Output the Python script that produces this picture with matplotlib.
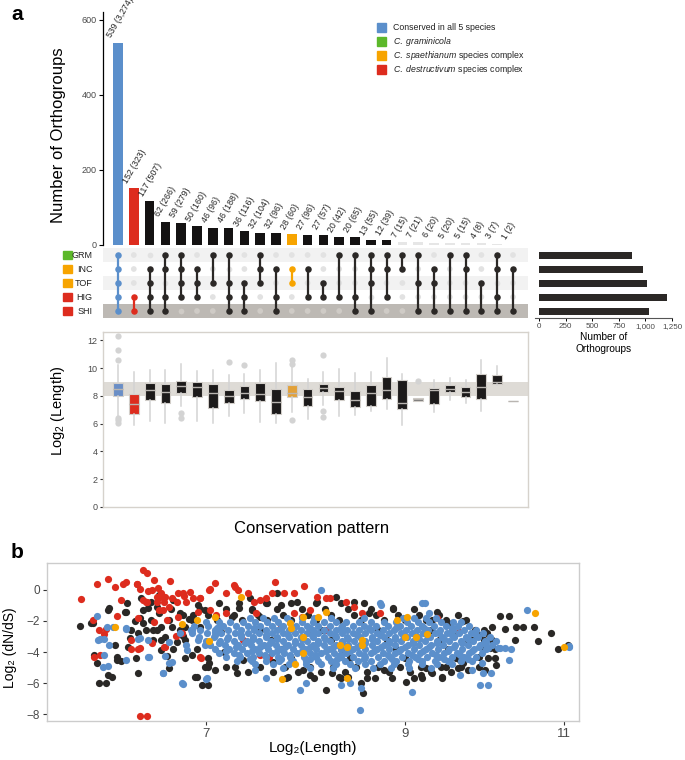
import matplotlib
matplotlib.use('Agg')
import matplotlib.pyplot as plt
from matplotlib.patches import Rectangle
from matplotlib.ticker import NullLocator

plt.rcParams['font.family'] = ['Liberation Sans', 'DejaVu Sans']
plt.rcParams['mathtext.fontset'] = 'custom'
plt.rcParams['mathtext.rm'] = 'Liberation Sans'
plt.rcParams['mathtext.it'] = 'Liberation Sans:italic'
plt.rcParams['mathtext.bf'] = 'Liberation Sans:bold'

BLUE = '#5b8fcb'
RED = '#dd2c1e'
ORANGE = '#f7a400'
GREEN = '#5cb82a'
DARK = '#2b2826'
GREYTXT = '#4a4a4a'

# ---------------- panel a: upset data ----------------
set_names = ['GRM', 'INC', 'TOF', 'HIG', 'SHI']
set_colors = [GREEN, ORANGE, ORANGE, RED, RED]
set_sizes = [874, 977, 1015, 1203, 1034]

bar_counts = [539, 152, 117, 62, 59, 50, 46, 46, 36, 32, 32, 28, 27, 27, 20, 20,
              13, 12, 7, 7, 6, 5, 5, 4, 3, 1]
bar_genes = ['3,274', '323', '507', '266', '279', '160', '96', '188', '116', '104',
             '96', '60', '96', '57', '42', '65', '55', '39', '15', '21', '20', '20',
             '15', '8', '7', '2']
patterns = ['GITHS', 'HS', 'ITHS', 'GIHS', 'GITH', 'ITH', 'GT', 'GTHS', 'THS', 'GIT',
            'IHS', 'IT', 'IH', 'TH', 'GH', 'GHS', 'GITS', 'GIH', 'GI', 'GTS', 'ITS',
            'GS', 'GIS', 'TS', 'GIHS', 'IS']
groups = ['all', 'des'] + ['other'] * 9 + ['spa'] + ['other'] * 14

legend_labels = ['Conserved in all 5 species',
                 r'$\mathit{C.\ graminicola}$',
                 r'$\mathit{C.\ spaethianum}$ species complex',
                 r'$\mathit{C.\ destructivum}$ species complex']
legend_colors = [BLUE, GREEN, ORANGE, RED]

# box plot of Log2(Length) per conservation pattern
box_lo = [6.5, 5.9, 6.2, 6.07, 7.27, 6.2, 6.02, 6.57, 6.79, 6.14, 6.02, 6.86, 6.31,
          7.34, 6.55, 6.62, 6.93, 7.05, 5.9, 7.65, 6.86, 7.70, 7.51, 6.91, 8.77, 7.63]
box_q1 = [7.98, 6.67, 7.70, 7.46, 8.22, 7.94, 7.10, 7.51, 7.79, 7.65, 6.69, 7.94, 7.29,
          8.25, 7.70, 7.22, 7.29, 7.77, 7.03, 7.65, 7.39, 8.30, 7.94, 7.77, 8.85, 7.63]
box_med = [8.53, 7.41, 8.41, 8.25, 8.70, 8.61, 8.18, 7.98, 8.22, 8.13, 7.53, 8.18, 7.89,
           8.58, 8.34, 7.70, 8.18, 8.46, 7.46, 7.77, 8.41, 8.53, 8.30, 8.65, 8.99, 7.63]
box_q3 = [8.96, 8.13, 8.96, 8.89, 9.08, 9.01, 8.85, 8.46, 8.70, 8.94, 8.53, 8.75, 8.49,
          8.85, 8.61, 8.34, 8.77, 9.37, 9.18, 7.86, 8.58, 8.82, 8.65, 9.56, 9.54, 7.63]
box_hi = [10.2, 9.73, 9.9, 9.85, 10.28, 9.78, 9.9, 9.49, 9.61, 9.9, 10.38, 10.09, 9.25,
          9.73, 9.97, 9.68, 9.73, 10.76, 9.61, 7.86, 9.18, 9.32, 9.13, 10.57, 10.14, 7.63]
box_out = [[12.3, 11.33, 10.57, 6.38, 6.26, 6.02], [], [], [], [6.74, 6.38], [], [],
           [10.45], [10.26], [], [], [10.57, 10.33, 6.26], [], [10.92, 6.93, 6.45],
           [], [], [], [], [], [9.08], [], [], [], [], [], []]

# ---------------- panel b: scatter data (Log2 length, Log2 dN/dS) ----------------
red_x = [5.98, 6.10, 6.19, 6.24, 6.31, 6.33, 6.29, 6.42, 6.44, 6.47, 6.50, 6.56, 6.54,
         6.47, 6.49, 6.59, 6.62, 6.65, 6.69, 6.76, 6.80, 6.86, 6.89, 6.95, 7.03, 7.08,
         7.18, 7.25, 7.29, 7.38, 7.44, 7.50, 7.55, 7.61, 7.64, 7.73, 7.82, 7.92, 7.98,
         8.06, 8.15, 8.19, 8.44, 8.53, 8.72, 8.91, 9.37, 9.64,
         6.07, 6.17, 6.26, 6.37, 6.44, 6.54, 6.64, 6.13, 6.95, 6.44, 6.50,
         6.76, 6.93, 6.67, 7.34, 7.50, 7.58, 7.90, 7.70, 7.98, 7.82, 7.46, 7.18, 8.15, 8.35,
         6.42, 6.51, 6.58, 6.50, 6.58, 6.61, 6.64, 6.71, 6.60, 6.63, 6.68, 6.75, 6.81,
         6.83, 6.95, 7.04, 7.26, 6.12, 6.16, 6.37, 6.43, 6.65, 6.96, 6.43, 6.56, 6.79,
         6.74, 7.04, 7.09, 6.08]
red_y = [-0.58, 0.37, 0.71, 0.22, 0.37, 0.54, -0.65, 0.37, 0.04, 1.29, 1.12, 0.65, 0.0,
         -0.65, -0.75, 0.11, -0.22, -0.43, 0.60, -0.22, -0.22, -0.15, -0.54, -0.54, 0.0,
         0.43, -0.17, 0.32, 0.0, -0.22, -0.75, -0.65, -0.54, -0.22, 0.49, -0.22, -0.22,
         0.28, -1.29, -0.43, -0.54, -0.54, -1.08, -1.5, -1.5, -2.37, -1.83, -2.69,
         -1.94, -2.54, -1.68, -3.23, -3.76, -3.44, -3.66, -4.19, -4.30, -8.13, -8.13,
         -1.72, -1.40, -1.94, -3.23, -4.19, -4.30, -1.72, -2.37, -2.58, -1.5, -1.5, -1.5,
         -2.58, -0.75,
         0.39, -0.04, -0.75, -0.75, -0.47, -0.47, -0.75, -0.54, -1.29, -1.29, -1.08,
         -0.75, -0.39, -0.75, -0.50, 0.04, 0.21, -2.58, -2.84, -3.83, -3.83, -3.70,
         -4.37, -1.83, -2.04, -2.80, -2.97, -1.29, -1.61, -4.30]

orange_x = [6.24, 6.79, 6.92, 7.08, 7.03, 7.32, 7.79, 7.80, 7.91, 7.91, 7.91, 8.07, 8.15,
            7.83, 7.71, 8.29, 8.37, 8.53, 8.53, 8.37, 8.91, 9.02, 9.00, 9.13, 9.25,
            10.60, 11.00]
orange_y = [-2.37, -2.19, -1.94, -1.76, -3.27, -0.43, -2.15, -2.47, -1.76, -3.01, -4.04,
            -1.76, -1.40, -4.80, -5.76, -3.55, -3.66, -3.23, -3.55, -5.70, -1.94, -1.76,
            -3.01, -3.01, -2.84, -1.46, -3.66]

black_x = [5.97, 6.07, 6.08, 6.10, 6.17, 6.20, 6.22, 6.24, 6.26, 6.29, 6.33, 6.35, 6.37,
           6.41, 6.43, 6.44, 6.47, 6.49, 6.53, 6.53, 6.55, 6.58, 6.60, 6.62, 6.65, 6.67,
           6.70, 6.72, 6.75, 6.78, 6.82, 6.88, 6.91, 6.93, 6.97, 6.99, 7.03, 7.08, 7.12,
           7.14, 7.16, 7.18, 7.24, 7.28, 7.30, 7.34, 7.40, 7.42, 7.50, 7.56, 7.62, 7.66,
           7.70, 7.77, 7.85, 7.91, 7.98, 8.06, 8.15, 8.21, 8.25, 8.28, 8.38, 8.44, 8.52,
           8.54, 8.60, 8.67, 8.76, 8.87, 9.01, 9.10, 9.18, 9.24, 9.31, 9.43, 9.50, 9.57,
           9.62, 9.69, 9.74, 9.83, 9.88, 9.93, 9.98,
           9.37, 9.69, 10.04, 10.15, 10.26, 10.21, 10.36, 10.45, 10.59, 10.34, 10.64,
           10.82, 10.92, 11.05, 9.94, 10.02, 10.08, 10.09, 9.96, 9.90, 9.80, 9.43, 9.31,
           9.20, 9.48, 9.65, 9.74,
           6.06, 6.12, 6.19, 6.19, 6.26, 6.36, 6.34, 6.32, 6.43, 6.47, 6.51, 6.68, 6.71,
           6.89, 6.99, 7.02, 6.92, 6.40, 6.55, 6.62, 6.80, 6.85, 6.95, 6.60, 6.45]
black_y = [-2.30, -2.15, -4.19, -4.73, -5.98, -1.18, -5.59, -3.55, -4.30, -4.56, -1.40,
           -3.66, -2.58, -4.41, -5.38, -1.83, -1.29, -2.58, -0.75, -1.94, -3.23, -1.08,
           -1.50, -2.37, -3.01, -4.26, -1.25, -0.65, -3.33, -1.50, -2.37, -4.19, -5.59,
           -0.97, -6.13, -1.29, -4.73, -5.16, -0.86, -2.69, -3.98, -4.95, -1.72, -5.38,
           -1.18, -4.52, -0.54, -1.29, -1.72, -0.86, -4.62, -0.22, -0.97, -5.59, -0.75,
           -5.16, -5.48, -0.75, -6.45, -5.38, -0.43, -5.59, -5.59, -0.75, -6.02, -6.67,
           -1.50, -5.70, -5.16, -1.18, -5.91, -5.70, -5.48, -5.05, -1.94, -5.59, -2.15,
           -2.97, -5.05, -4.73, -3.23, -2.58, -4.34, -3.66, -2.80,
           -1.42, -2.00, -2.39, -1.68, -1.68, -2.52, -2.39, -2.39, -2.39, -3.23, -3.29,
           -2.77, -3.81, -3.55, -3.23, -3.74, -4.39, -4.84, -5.16, -2.90, -3.23, -5.68,
           -5.35, -5.68, -4.97, -4.52, -5.16,
           -2.15, -5.98, -1.29, -5.48, -4.52, -3.12, -0.86, -1.40, -2.75, -2.15, -1.18,
           -5.05, -2.37, -1.61, -4.95, -6.13, -5.59, -2.0, -2.6, -3.9, -3.0, -1.9, -2.4,
           -0.3, -0.5]
# black points lying behind the dense blue band, one row per dN/dS level
black_rows = [
    (-0.85, [7.30, 7.55, 7.80, 8.05, 8.30, 8.55]),
    (-1.25, [6.95, 7.18, 7.42, 7.66, 7.90, 8.14, 8.38, 8.62, 8.86, 9.10]),
    (-1.6, [6.80, 7.02, 7.25, 7.48, 7.72, 7.96, 8.20, 8.44, 8.68, 8.92, 9.16, 9.40, 9.62]),
    (-1.95, [6.68, 6.88, 7.10, 7.33, 7.56, 7.80, 8.04, 8.28, 8.52, 8.76, 9.00, 9.24, 9.48, 9.72]),
    (-2.6, [6.58, 6.78, 7.5, 8.1, 8.7, 9.3, 9.95]),
    (-3.2, [6.62, 6.82, 7.6, 8.2, 8.8, 9.4, 10.05]),
    (-3.8, [6.72, 6.92, 7.7, 8.3, 8.9, 9.5, 10.08]),
    (-4.4, [6.82, 7.02, 7.8, 8.4, 9.0, 9.6, 10.0]),
    (-4.95, [7.02, 7.26, 7.50, 7.74, 7.98, 8.22, 8.46, 8.70, 8.94, 9.18, 9.42, 9.66, 9.88]),
    (-5.3, [7.38, 7.62, 7.86, 8.10, 8.34, 8.58, 8.82, 9.06, 9.30, 9.54]),
    (-5.65, [7.75, 8.02, 8.30, 8.58, 8.85]),
]

blue_x = [6.10, 6.13, 6.19, 6.20, 6.23, 6.33, 6.44, 6.52, 6.63, 6.68, 6.79, 6.83, 6.87,
          6.93, 6.99, 7.01, 7.08, 7.12, 7.45, 7.55, 7.88, 7.94, 8.10, 8.30, 8.40, 8.50,
          8.52, 8.72, 8.73, 9.08, 9.20, 9.90, 9.93, 10.50, 11.07, 10.00, 10.15,
          9.23, 9.28, 11.07, 10.12, 10.21, 10.29, 10.26, 9.99, 10.03, 9.65, 9.80, 9.92,
          9.97, 9.56, 9.39,
          6.11, 6.16, 6.18, 6.16, 6.15, 6.33, 6.33, 6.43, 6.51, 6.51, 6.63, 6.65, 6.71,
          6.68, 6.78, 6.80, 6.84, 6.88, 7.00]
blue_y = [-1.68, -3.18, -4.90, -3.55, -2.37, -2.47, -3.12, -4.30, -5.38, -4.69, -6.02,
          -3.55, -2.58, -3.23, -3.55, -5.70, -2.69, -2.37, -5.16, -5.70, -6.45, -6.02,
          0.0, -6.13, -6.02, -7.74, -6.34, -0.82, -0.97, -6.56, -0.86, -6.13, -5.38,
          -1.29, -3.66, -3.76, -3.76,
          -0.84, -1.48, -3.61, -3.74, -3.74, -3.81, -4.52, -6.13, -5.35, -5.48, -5.16,
          -4.71, -3.35, -2.58, -2.77,
          -3.23, -3.16, -2.37, -4.19, -4.95, -2.54, -4.52, -3.18, -3.23, -4.34, -5.38,
          -4.26, -4.62, -3.33, -2.75, -6.06, -3.87, -2.58, -5.76]
# the dense blue band, one row per dN/dS level
blue_rows = [
    (-1.8, [7.40, 7.52, 7.63, 7.76, 7.90, 8.02, 8.20, 8.55, 8.98, 9.10, 9.24, 9.36]),
    (-2.05, [7.00, 7.12, 7.22, 7.34, 7.45, 7.56, 7.67, 7.79, 7.90, 8.01, 8.13, 8.25, 8.36,
             8.49, 8.62, 8.76, 8.90, 9.02, 9.15, 9.28, 9.42, 9.56, 9.66]),
    (-2.3, [6.90, 7.02, 7.15, 7.27, 7.38, 7.50, 7.61, 7.72, 7.84, 7.95, 8.07, 8.19, 8.31,
            8.43, 8.55, 8.68, 8.81, 8.94, 9.07, 9.20, 9.34, 9.48, 9.62, 9.76]),
    (-2.43, [7.10, 7.44, 7.70, 7.98, 8.30, 8.60, 8.90, 9.22, 9.55]),
    (-2.55, [6.95, 7.08, 7.20, 7.32, 7.44, 7.55, 7.66, 7.78, 7.89, 8.01, 8.13, 8.25, 8.37,
             8.49, 8.62, 8.75, 8.88, 9.01, 9.14, 9.27, 9.41, 9.55, 9.70, 9.85]),
    (-2.8, [6.88, 7.01, 7.14, 7.26, 7.38, 7.49, 7.61, 7.72, 7.83, 7.95, 8.07, 8.19, 8.31,
            8.43, 8.56, 8.69, 8.82, 8.95, 9.08, 9.21, 9.35, 9.49, 9.63, 9.78, 9.93]),
    (-2.93, [7.08, 7.32, 7.55, 7.77, 8.00, 8.24, 8.47, 8.72, 8.98, 9.25, 9.55, 9.85]),
    (-3.05, [6.94, 7.07, 7.20, 7.32, 7.43, 7.55, 7.66, 7.78, 7.89, 8.01, 8.13, 8.25, 8.37,
             8.50, 8.63, 8.76, 8.89, 9.02, 9.15, 9.29, 9.43, 9.57, 9.72, 9.87, 10.02]),
    (-3.18, [7.19, 7.43, 7.66, 7.90, 8.14, 8.38, 8.63, 8.89, 9.16, 9.45, 9.75]),
    (-3.3, [7.00, 7.13, 7.25, 7.37, 7.49, 7.60, 7.72, 7.83, 7.95, 8.07, 8.19, 8.31, 8.44,
            8.56, 8.69, 8.82, 8.96, 9.09, 9.23, 9.37, 9.51, 9.66, 9.81, 9.96, 10.10]),
    (-3.43, [7.12, 7.36, 7.59, 7.83, 8.07, 8.31, 8.56, 8.82, 9.09, 9.37, 9.67, 9.94]),
    (-3.55, [7.04, 7.17, 7.29, 7.41, 7.53, 7.65, 7.77, 7.89, 8.01, 8.13, 8.25, 8.38, 8.50,
             8.63, 8.76, 8.89, 9.03, 9.16, 9.30, 9.44, 9.59, 9.74, 9.89, 10.04]),
    (-3.68, [7.27, 7.50, 7.74, 7.98, 8.22, 8.47, 8.73, 9.00, 9.28, 9.58, 9.88]),
    (-3.8, [7.08, 7.21, 7.33, 7.45, 7.57, 7.69, 7.81, 7.93, 8.05, 8.18, 8.30, 8.43, 8.56,
            8.69, 8.82, 8.96, 9.10, 9.24, 9.38, 9.52, 9.67, 9.82, 9.97]),
    (-3.93, [7.18, 7.42, 7.66, 7.90, 8.15, 8.40, 8.66, 8.93, 9.21, 9.50, 9.80]),
    (-4.05, [7.12, 7.25, 7.37, 7.49, 7.61, 7.73, 7.85, 7.98, 8.10, 8.23, 8.36, 8.49, 8.62,
             8.75, 8.89, 9.03, 9.17, 9.31, 9.46, 9.61, 9.76, 9.92]),
    (-4.18, [7.30, 7.54, 7.79, 8.03, 8.29, 8.55, 8.81, 9.08, 9.36, 9.65]),
    (-4.3, [7.18, 7.31, 7.43, 7.55, 7.67, 7.79, 7.92, 8.04, 8.17, 8.30, 8.43, 8.56, 8.70,
            8.83, 8.97, 9.11, 9.25, 9.40, 9.55, 9.70, 9.85]),
    (-4.43, [7.40, 7.70, 7.98, 8.26, 8.55, 8.85, 9.15, 9.45, 9.75]),
    (-4.55, [7.28, 7.42, 7.55, 7.68, 7.81, 7.94, 8.07, 8.20, 8.34, 8.48, 8.62, 8.76, 8.90,
             9.05, 9.20, 9.35, 9.50, 9.66, 9.80]),
    (-4.8, [7.45, 7.62, 7.78, 7.94, 8.10, 8.25, 8.40, 8.56, 8.72, 8.88, 9.04, 9.20, 9.37, 9.55]),
    (-5.05, [7.72, 7.98, 8.22, 8.45, 8.65, 8.84, 9.05, 9.30]),
]

for yv, xs in black_rows:
    black_x += xs
    black_y += [yv] * len(xs)
for yv, xs in blue_rows:
    blue_x += xs
    blue_y += [yv] * len(xs)

# ---------------- layout helpers (pixel boxes on the 685x760 canvas) ----------------
W, H = 685, 760


def fx(px):
    return px / W


def fy(py):
    return 1 - py / H


def pbox(l, t, r, b):
    return [fx(l), fy(b), (r - l) / W, (b - t) / H]


fig = plt.figure(figsize=(6.85, 7.6), dpi=100)
n = len(bar_counts)
xl = (-0.95, n - 0.05)
group_color = {'all': BLUE, 'des': RED, 'spa': ORANGE, 'other': '#141212'}

# --- intersection size bars
axb = fig.add_axes(pbox(103, 12, 528, 245))
bar_cols = [group_color[g] if c > 7 else '#e6e6e6' for g, c in zip(groups, bar_counts)]
axb.bar(range(n), bar_counts, width=0.6, color=bar_cols)
for i, (c, g) in enumerate(zip(bar_counts, bar_genes)):
    axb.text(i - 0.3, c + 9, f'{c} ({g})', rotation=60, rotation_mode='anchor',
             ha='left', va='bottom', fontsize=6.3, color='#222222', clip_on=False)
axb.set_xlim(xl)
axb.set_ylim(0, 621)
axb.set_xticks([])
axb.set_yticks([0, 200, 400, 600])
for s in ['top', 'right', 'bottom']:
    axb.spines[s].set_visible(False)
axb.spines['left'].set_linewidth(0.9)
axb.tick_params(axis='y', labelsize=6.5, labelcolor=GREYTXT, length=3, width=0.8, pad=1.5)
fig.text(fx(58), fy(135), 'Number of Orthogroups', rotation=90, ha='center',
         va='center', fontsize=12)

# legend
for k, (lab, col) in enumerate(zip(legend_labels, legend_colors)):
    yc = 27 + 14 * k
    fig.patches.append(Rectangle((fx(377), fy(yc + 4.5)), 9 / W, 9 / H,
                                 transform=fig.transFigure, color=col))
    fig.text(fx(393), fy(yc), lab, ha='left', va='center', fontsize=6.3, color='#222222')

# --- matrix
axm = fig.add_axes(pbox(103, 248, 528, 318))
axm.set_xlim(xl)
axm.set_ylim(4.5, -0.5)
row_bg = ['#f2f2f2', '#ffffff', '#f2f2f2', '#ffffff', '#bdb9b4']
for r, c in enumerate(row_bg):
    axm.axhspan(r - 0.5, r + 0.5, color=c, lw=0, zorder=0)
for i, (pat, g) in enumerate(zip(patterns, groups)):
    rows = [set_names.index(s) for s in set_names if s[0] in pat]
    empty = [r for r in range(5) if r not in rows]
    axm.scatter([i] * len(empty), empty, s=17, lw=0, zorder=1,
                color=['#cfcbc6' if r == 4 else '#e2e2e2' for r in empty])
    col = DARK if g == 'other' else group_color[g]
    axm.plot([i, i], [min(rows), max(rows)], color=col, lw=1.6, zorder=2)
    axm.scatter([i] * len(rows), rows, s=22, lw=0, color=col, zorder=3)
axm.axis('off')
for r, (name, col) in enumerate(zip(set_names, set_colors)):
    axm.add_patch(Rectangle((-3.49, r - 0.32), 0.57, 0.64, color=col, clip_on=False))
    axm.text(-1.6, r, name, ha='right', va='center', fontsize=6.5, color='#222222')

# --- set sizes
axs = fig.add_axes(pbox(534.7, 248, 672, 318))
axs.barh(range(5), set_sizes, height=0.5, color=DARK)
axs.set_ylim(4.5, -0.5)
axs.set_xlim(-40, 1250)
axs.set_yticks([])
axs.set_xticks([0, 250, 500, 750, 1000, 1250])
axs.set_xticklabels(['0', '250', '500', '750', '1,000', '1,250'])
for s in ['top', 'right', 'left']:
    axs.spines[s].set_visible(False)
axs.spines['bottom'].set_color('#555555')
axs.spines['bottom'].set_linewidth(0.8)
axs.tick_params(axis='x', labelsize=5.8, labelcolor=GREYTXT, length=2.5, width=0.7, pad=1.2)
fig.text(fx(604), fy(343), 'Number of\nOrthogroups', ha='center', va='center',
         fontsize=7.3, linespacing=1.15)

# --- box plot
axx = fig.add_axes(pbox(103, 332, 528, 507))
stats = [dict(med=m, q1=a, q3=b, whislo=lo, whishi=hi, fliers=f)
         for m, a, b, lo, hi, f in zip(box_med, box_q1, box_q3, box_lo, box_hi, box_out)]
bp = axx.bxp(stats, positions=range(n), widths=0.62, patch_artist=True, showcaps=False,
             boxprops=dict(edgecolor='#d2cec9', linewidth=0.8),
             whiskerprops=dict(color='#d3d3d3', linewidth=1.1),
             medianprops=dict(color='#b9b5b1', linewidth=1.0),
             flierprops=dict(marker='o', markerfacecolor='#d3d3d3', markeredgecolor='none',
                             markersize=4.5))
box_face = {'all': '#6a8ec6', 'des': '#dd2c1e', 'spa': '#e2a139', 'other': '#1c1a1a'}
box_cols = [box_face[g] for g in groups]
box_cols[19] = '#6f6f6f'
box_cols[25] = '#d9d9d9'
for patch, fc in zip(bp['boxes'], box_cols):
    patch.set_facecolor(fc)
axx.axhspan(8, 9, color='#dedbd6', lw=0, zorder=0)
axx.set_xlim(xl)
axx.set_ylim(0, 12.6)
axx.set_xticks([])
axx.set_yticks([0, 2, 4, 6, 8, 10, 12])
for s in axx.spines.values():
    s.set_color('#d6d2cc')
    s.set_linewidth(1)
axx.tick_params(axis='y', labelsize=6.5, labelcolor=GREYTXT, length=2.5, width=0.8,
                color='#333333', pad=1.5)
fig.text(fx(58), fy(411), 'Log$_2$ (Length)', rotation=90, ha='center', va='center',
         fontsize=10.5)
fig.text(fx(312), fy(529), 'Conservation pattern', ha='center', va='center', fontsize=12)

# ---------------- panel b ----------------
axp = fig.add_axes(pbox(47, 563, 579, 721))
axp.scatter(black_x, black_y, s=27, lw=0, color='#2a2826', zorder=1)
axp.scatter(red_x, red_y, s=27, lw=0, color=RED, zorder=2)
axp.scatter(blue_x, blue_y, s=27, lw=0, color=BLUE, zorder=3)
axp.scatter(orange_x, orange_y, s=27, lw=0, color=ORANGE, zorder=4)
axp.set_xscale('log')
axp.set_xlim(5.73, 11.21)
axp.set_ylim(-8.45, 1.74)
axp.set_xticks([7, 9, 11])
axp.set_xticklabels(['7', '9', '11'])
axp.xaxis.set_minor_locator(NullLocator())
axp.set_yticks([0, -2, -4, -6, -8])
for s in axp.spines.values():
    s.set_color('#cccccc')
    s.set_linewidth(1)
axp.tick_params(axis='y', labelsize=8.5, labelcolor=GREYTXT, length=3, width=0.8,
                color='#333333', pad=2)
axp.tick_params(axis='x', labelsize=9.5, labelcolor=GREYTXT, length=3, width=0.8,
                color='#333333', pad=2)
axp.set_xlabel('Log₂(Length)', fontsize=11, labelpad=1)
fig.text(fx(10), fy(648), 'Log₂ (dN/dS)', rotation=90, ha='center', va='center',
         fontsize=10)

fig.text(fx(17), fy(14), 'a', ha='center', va='center', fontsize=15, fontweight='bold')
fig.text(fx(17), fy(553), 'b', ha='center', va='center', fontsize=15, fontweight='bold')

fig.savefig('out.png', dpi=100)
